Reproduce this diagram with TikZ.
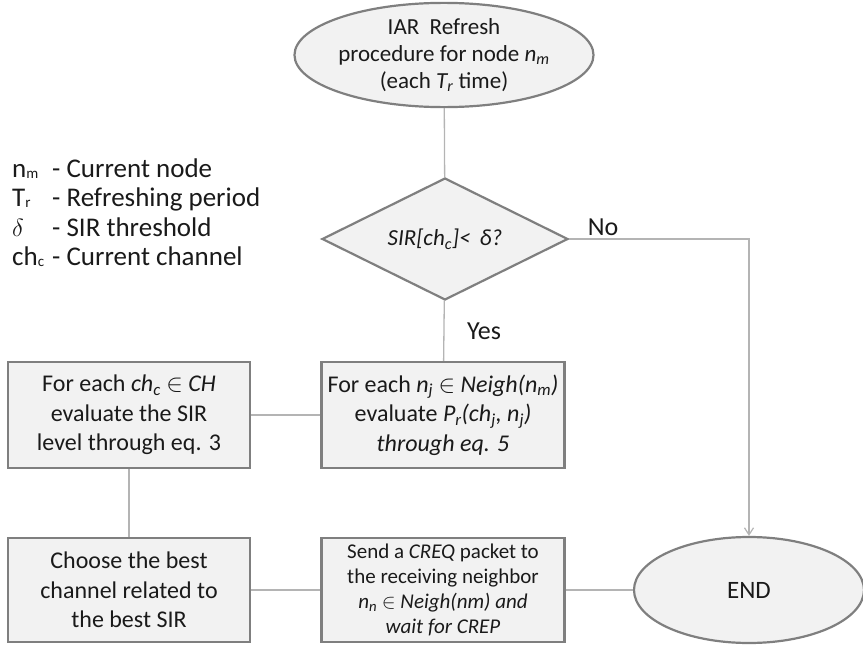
\documentclass[tikz,border=0pt]{standalone}
\usepackage{fontspec}
\setmainfont{Carlito}
\usetikzlibrary{shapes.geometric,arrows.meta}
\definecolor{boxfill}{HTML}{F2F2F2}
\definecolor{boxline}{HTML}{7F7F7F}
\definecolor{connline}{HTML}{B4B4B4}
\definecolor{txt}{HTML}{1A1A1A}
\newcommand{\lgsub}[1]{\raisebox{-0.05em}{\fontsize{15}{15}\selectfont #1}}
\begin{document}
\begin{tikzpicture}[x=1pt,y=-1pt,
  shapebase/.style={draw=boxline,fill=boxfill,line width=2.2pt,align=center,inner sep=0pt,text=txt},
  procbox/.style={shapebase,rectangle,minimum width=242pt,minimum height=106pt,font=\fontsize{24}{29.5}\selectfont},
  smallbox/.style={procbox,font=\fontsize{21}{25}\selectfont},
  termnode/.style={shapebase,ellipse,minimum width=240pt,minimum height=104pt,font=\fontsize{23}{27}\selectfont},
  decnode/.style={shapebase,diamond,aspect=2,minimum width=246pt,minimum height=122pt,font=\fontsize{23}{27}\selectfont},
  connector/.style={draw=connline,line width=1.3pt},
  tip/.style={-{Straight Barb[length=7pt,width=9pt,line width=1.2pt]}},
  lbl/.style={inner sep=0pt,text=txt,font=\fontsize{26}{30}\selectfont},
  legend/.style={inner sep=0pt,anchor=base west,text=txt,font=\fontsize{27}{30}\selectfont}
]
\useasboundingbox (0,0) rectangle (863,645);

\node[termnode] (start) at (444,55) {IAR\ \ Refresh\\procedure for node \textit{n\textsubscript{m}}\\(each \textit{T\textsubscript{r}} time)};
\node[decnode] (dec) at (445,239) {\textit{SIR[ch\textsubscript{c}]<\, δ?}};
\node[procbox] (bA) at (129,415) {For each \textit{ch\textsubscript{c}} $\in$ \textit{CH}\\evaluate the SIR\\level through eq. 3};
\node[procbox,minimum width=243pt] (bB) at (443,415) {For each \textit{n\textsubscript{j}} $\in$ \textit{Neigh(n\textsubscript{m})}\\evaluate \textit{P\textsubscript{r}(ch\textsubscript{j}, n\textsubscript{j})}\\\textit{through eq. 5}};
\node[procbox,minimum height=104pt] (bC) at (129,590) {Choose the best\\channel related to\\the best SIR};
\node[smallbox,minimum width=243pt,minimum height=104pt] (bD) at (443,590) {Send a \textit{CREQ} packet to\\the receiving neighbor\\\textit{n\textsubscript{n}} $\in$ \textit{Neigh(nm) and}\\\textit{wait for CREP}};
\node[termnode,minimum width=230pt,minimum height=106pt,font=\fontsize{25}{30}\selectfont] (endn) at (749,590) {END};

\node[lbl] (no) at (603,227) {No};
\node[lbl] (yes) at (484,331) {Yes};

\node[legend] (s1) at (12,177) {n\lgsub{m}};
\node[legend] (t1) at (52,177) {- Current node};
\node[legend] (s2) at (12,206.5) {T\lgsub{r}};
\node[legend] (t2) at (52,206.5) {- Refreshing period};
\node[legend] (s3) at (12,236) {$\delta$};
\node[legend] (t3) at (52,236) {- SIR threshold};
\node[legend] (s4) at (12,265.5) {ch\lgsub{c}};
\node[legend] (t4) at (52,265.5) {- Current channel};

\draw[connector] (start) -- (dec);
\draw[connector,tip] (dec.east) -| (endn.north);
\draw[connector] (dec) -- (bB);
\draw[connector] (bB) -- (bA);
\draw[connector] (bA) -- (bC);
\draw[connector] (bC) -- (bD);
\draw[connector] (bD) -- (endn);
\end{tikzpicture}
\end{document}
